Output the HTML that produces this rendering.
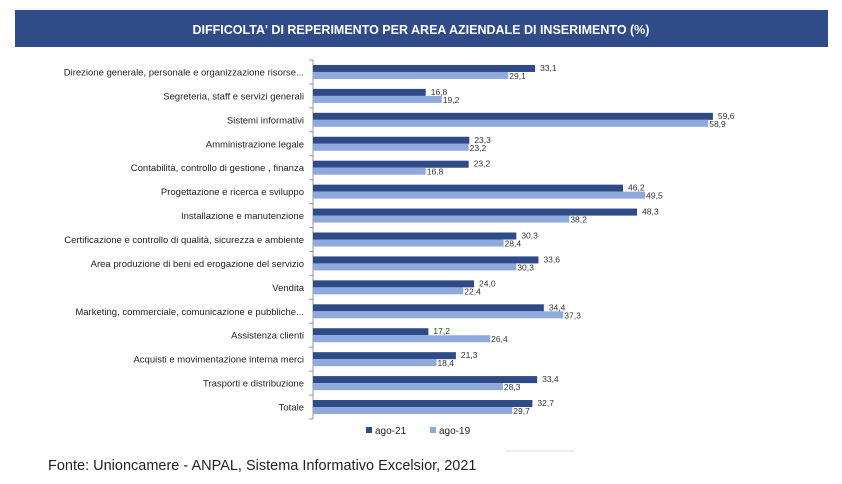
<!DOCTYPE html>
<html><head><meta charset="utf-8">
<style>
body{margin:0;background:#fff;width:842px;height:479px;overflow:hidden;font-family:"Liberation Sans",sans-serif;}
svg text{font-family:"Liberation Sans",sans-serif;}
</style></head>
<body>
<svg id="chart" width="842" height="479">
<rect x="15" y="10" width="813" height="37" fill="#2F4B88"/>
<text x="421" y="34" text-anchor="middle" fill="#fff" font-size="12.5" font-weight="bold">DIFFICOLTA' DI REPERIMENTO PER AREA AZIENDALE DI INSERIMENTO (%)</text>
<g id="plot"></g>
<rect x="366" y="427" width="6" height="6" fill="#2E4A87"/>
<text x="375" y="434" font-size="10" fill="#222">ago-21</text>
<rect x="430" y="427" width="6" height="6" fill="#8EA9DB"/>
<text x="439" y="434" font-size="10" fill="#222">ago-19</text>
<line x1="505" y1="451" x2="575" y2="451" stroke="#ddd"/>
<text x="48" y="470" font-size="14.5" fill="#222">Fonte: Unioncamere - ANPAL, Sistema Informativo Excelsior, 2021</text>
</svg>
<script>
const categories=["Direzione generale, personale e organizzazione risorse...","Segreteria, staff e servizi generali","Sistemi informativi","Amministrazione legale","Contabilità, controllo di gestione , finanza","Progettazione e ricerca e sviluppo","Installazione e manutenzione","Certificazione e controllo di qualità, sicurezza e ambiente","Area produzione di beni ed erogazione del servizio","Vendita","Marketing, commerciale, comunicazione e pubbliche...","Assistenza clienti","Acquisti e movimentazione interna merci","Trasporti e distribuzione","Totale"];
const ago21=[33.1,16.8,59.6,23.3,23.2,46.2,48.3,30.3,33.6,24.0,34.4,17.2,21.3,33.4,32.7];
const ago19=[29.1,19.2,58.9,23.2,16.8,49.5,38.2,28.4,30.3,22.4,37.3,26.4,18.4,28.3,29.7];
const NS="http://www.w3.org/2000/svg";
const g=document.getElementById('plot');
const x0=313,pxPer=6.71,top0=60,bottom=419;
const band=(bottom-top0)/categories.length;
const xs=v=>x0+v*pxPer;
const yb=i=>top0+i*band;
function mk(tag,attrs){const e=document.createElementNS(NS,tag);for(const k in attrs)e.setAttribute(k,attrs[k]);g.appendChild(e);return e;}
const fmt=v=>v.toFixed(1).replace('.',',');
let ax=mk('line',{x1:x0,y1:top0,x2:x0,y2:bottom,stroke:'#999'});


for(let i=0;i<=categories.length;i++){
 let t=mk('line',{x1:x0-4,y1:yb(i),x2:x0,y2:yb(i),stroke:'#999'});
 
 
}
categories.forEach((c,i)=>{
 const c0=yb(i)+band/2;
 let l=mk('text',{x:x0-9,y:c0+3.5,'text-anchor':'end','font-size':'9.5',fill:'#222'});
 l.textContent=c;
 
 
 let b1=mk('rect',{x:x0,y:c0-7,width:xs(ago21[i])-x0,height:7,fill:'#2E4A87'});
 
 
 let b2=mk('rect',{x:x0,y:c0,width:xs(ago19[i])-x0,height:7,fill:'#8EA9DB'});
 
 
 let v1=mk('text',{x:xs(ago21[i])+5,y:c0-1,'font-size':'8.5',fill:'#333'});
 v1.textContent=fmt(ago21[i]);
 
 
 let v2=mk('text',{x:xs(ago19[i])+1,y:c0+7,'font-size':'8.5',fill:'#333'});
 v2.textContent=fmt(ago19[i]);
 
 
});
</script>
</body></html>
